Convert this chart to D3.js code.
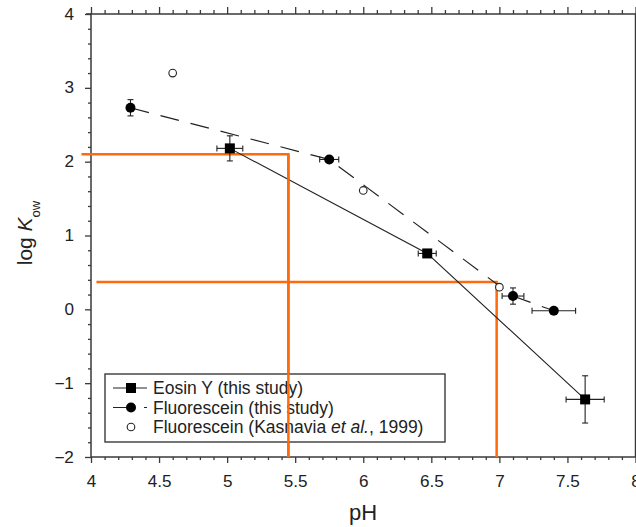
<!DOCTYPE html>
<html>
<head>
<meta charset="utf-8">
<script src="https://cdn.jsdelivr.net/npm/d3@7"></script>
<style>
  body { margin: 0; background: #fff; }
  text { font-family: "Liberation Sans", Arial, Helvetica, sans-serif; fill: #222; }
</style>
</head>
<body>
<script>
"use strict";

// Eosin Y (this study): pH, log Kow and error bars
var eosinPH = [5.02, 6.47, 7.63];
var eosinK = [2.18, 0.757, -1.22];
var eosinPHerr = [0.095, 0.066, 0.14];
var eosinKerr = [0.17, 0.04, 0.32];

// Fluorescein (this study)
var fluorPH = [4.29, 5.75, 7.10, 7.40];
var fluorK = [2.73, 2.03, 0.18, -0.02];
var fluorPHerr = [0.0, 0.07, 0.08, 0.16];
var fluorKerr = [0.11, 0.02, 0.11, 0.02];

// Fluorescein (Kasnavia et al., 1999)
var kasPH = [4.60, 6.00, 7.00];
var kasK = [3.20, 1.61, 0.30];

// orange reading lines: [x1, y1, x2, y2] corners
var orangeA = [[3.93, 2.10], [5.45, 2.10], [5.45, -2]];
var orangeB = [[4.04, 0.37], [6.98, 0.37], [6.98, -2]];

var xMajor = [4, 4.5, 5, 5.5, 6, 6.5, 7, 7.5, 8];
var xLabels = ["4", "4.5", "5", "5.5", "6", "6.5", "7", "7.5", "8"];
var yMajor = [-2, -1, 0, 1, 2, 3, 4];

var legendLabels = ["Eosin Y (this study)", "Fluorescein (this study)", "Fluorescein (Kasnavia "];

window.onload = function() {
  var width = 636, height = 527;
  var svg = d3.select("body").append("svg")
      .attr("width", width).attr("height", height);

  var x = d3.scaleLinear().domain([4, 8]).range([91, 635.5]);
  var y = d3.scaleLinear().domain([-2, 4]).range([457, 14]);

  var xMinor = d3.range(40, 81).map(function(d) { return d / 10; })
      .filter(function(d) { return Math.abs(d * 2 - Math.round(d * 2)) > 1e-6; });
  var yMinor = d3.range(-10, 21).map(function(d) { return d / 5; })
      .filter(function(d) { return Math.abs(d - Math.round(d)) > 1e-6; });

  var axisColor = "#3a3a3a";

  function styleAxis(g) {
    g.select(".domain").remove();
    g.selectAll("line").attr("stroke", axisColor).attr("stroke-width", 1.3);
    g.selectAll("text").style("font-size", "16px").attr("fill", "#222");
  }

  // bottom
  svg.append("g").attr("transform", "translate(0," + y(-2) + ")")
    .call(d3.axisBottom(x).tickValues(xMinor).tickSize(3).tickFormat(""))
    .call(styleAxis);
  svg.append("g").attr("transform", "translate(0," + y(-2) + ")")
    .call(d3.axisBottom(x).tickValues(xMajor).tickSize(6).tickPadding(13)
      .tickFormat(function(d, i) { return xLabels[i]; }))
    .call(styleAxis)
    .selectAll("text").attr("transform", "scale(1.07,1)");
  // top
  svg.append("g").attr("transform", "translate(0," + y(4) + ")")
    .call(d3.axisTop(x).tickValues(xMinor).tickSize(4).tickFormat(""))
    .call(styleAxis);
  svg.append("g").attr("transform", "translate(0," + y(4) + ")")
    .call(d3.axisTop(x).tickValues(xMajor).tickSize(7).tickFormat(""))
    .call(styleAxis);
  // left
  svg.append("g").attr("transform", "translate(" + x(4) + ",0)")
    .call(d3.axisLeft(y).tickValues(yMinor).tickSize(3).tickFormat(""))
    .call(styleAxis);
  svg.append("g").attr("transform", "translate(" + x(4) + ",0)")
    .call(d3.axisLeft(y).tickValues(yMajor).tickSize(6).tickPadding(10)
      .tickFormat(d3.format("d")))
    .call(styleAxis)
    .selectAll("text").attr("transform", "scale(1.07,1)");

  // frame
  svg.append("rect")
    .attr("x", x(4)).attr("y", y(4))
    .attr("width", x(8) - x(4)).attr("height", y(-2) - y(4))
    .attr("fill", "none").attr("stroke", axisColor).attr("stroke-width", 1.5);
  svg.append("line")
    .attr("x1", x(4) - 5).attr("x2", x(4)).attr("y1", y(4)).attr("y2", y(4))
    .attr("stroke", axisColor).attr("stroke-width", 1.5);

  // axis titles
  svg.append("text")
    .attr("x", 363).attr("y", 520)
    .attr("text-anchor", "middle")
    .style("font-size", "22px")
    .text("pH");

  var yl = svg.append("text")
    .attr("transform", "translate(32,233) rotate(-90)")
    .attr("text-anchor", "middle")
    .style("font-size", "21px");
  yl.append("tspan").text("log ");
  yl.append("tspan").style("font-style", "italic").text("K");
  yl.append("tspan").attr("dy", 8).style("font-size", "13px").text("ow");

  // orange lines
  var line = d3.line().x(function(d) { return x(d[0]); }).y(function(d) { return y(d[1]); });
  [orangeA, orangeB].forEach(function(pts) {
    svg.append("path").attr("d", line(pts))
      .attr("fill", "none").attr("stroke", "#ff6a0a").attr("stroke-width", 2.5);
  });

  // series lines
  var eosin = eosinPH.map(function(d, i) { return [d, eosinK[i]]; });
  var fluor = fluorPH.map(function(d, i) { return [d, fluorK[i]]; });

  svg.append("path").attr("d", line(eosin))
    .attr("fill", "none").attr("stroke", "#222").attr("stroke-width", 1.1);
  svg.append("path").attr("d", line(fluor))
    .attr("fill", "none").attr("stroke", "#222").attr("stroke-width", 1.2)
    .attr("stroke-dasharray", "19,12");

  // error bars
  function errorBars(px, py, ex, ey) {
    var g = svg.append("g").attr("stroke", "#222").attr("stroke-width", 1.1);
    px.forEach(function(d, i) {
      var cx = x(d), cy = y(py[i]);
      if (ex[i] > 0) {
        var x0 = x(d - ex[i]), x1 = x(d + ex[i]);
        g.append("line").attr("x1", x0).attr("x2", x1).attr("y1", cy).attr("y2", cy);
        g.append("line").attr("x1", x0).attr("x2", x0).attr("y1", cy - 3).attr("y2", cy + 3);
        g.append("line").attr("x1", x1).attr("x2", x1).attr("y1", cy - 3).attr("y2", cy + 3);
      }
      if (ey[i] > 0) {
        var y0 = y(py[i] - ey[i]), y1 = y(py[i] + ey[i]);
        g.append("line").attr("x1", cx).attr("x2", cx).attr("y1", y0).attr("y2", y1);
        g.append("line").attr("x1", cx - 3).attr("x2", cx + 3).attr("y1", y0).attr("y2", y0);
        g.append("line").attr("x1", cx - 3).attr("x2", cx + 3).attr("y1", y1).attr("y2", y1);
      }
    });
  }
  errorBars(eosinPH, eosinK, eosinPHerr, eosinKerr);
  errorBars(fluorPH, fluorK, fluorPHerr, fluorKerr);

  // markers
  svg.selectAll(".sq").data(eosin).enter().append("rect")
    .attr("x", function(d) { return x(d[0]) - 5; })
    .attr("y", function(d) { return y(d[1]) - 5; })
    .attr("width", 10).attr("height", 10).attr("fill", "#000");
  svg.selectAll(".ci").data(fluor).enter().append("circle")
    .attr("cx", function(d) { return x(d[0]); })
    .attr("cy", function(d) { return y(d[1]); })
    .attr("r", 5).attr("fill", "#000");
  svg.selectAll(".oc").data(kasPH).enter().append("circle")
    .attr("cx", function(d) { return x(d); })
    .attr("cy", function(d, i) { return y(kasK[i]); })
    .attr("r", 3.8).attr("fill", "#fff").attr("stroke", "#222").attr("stroke-width", 1.1);

  // legend
  var lg = svg.append("g").attr("transform", "translate(105,374)");
  lg.append("rect").attr("width", 340).attr("height", 68)
    .attr("fill", "#fff").attr("stroke", axisColor).attr("stroke-width", 1.4);
  var rows = [14, 33.5, 53];
  lg.append("line").attr("x1", 8).attr("x2", 42).attr("y1", rows[0]).attr("y2", rows[0])
    .attr("stroke", "#222").attr("stroke-width", 1.2);
  lg.append("rect").attr("x", 21).attr("y", rows[0] - 5).attr("width", 10).attr("height", 10).attr("fill", "#000");
  lg.append("line").attr("x1", 8).attr("x2", 42).attr("y1", rows[1]).attr("y2", rows[1])
    .attr("stroke", "#222").attr("stroke-width", 1.2).attr("stroke-dasharray", "19,12");
  lg.append("circle").attr("cx", 26).attr("cy", rows[1]).attr("r", 5).attr("fill", "#000");
  lg.append("circle").attr("cx", 26).attr("cy", rows[2]).attr("r", 3.8)
    .attr("fill", "#fff").attr("stroke", "#222").attr("stroke-width", 1.1);

  legendLabels.forEach(function(t, i) {
    var tx = lg.append("text").attr("x", 48).attr("y", rows[i]).attr("dy", "0.36em")
      .style("font-size", "17.5px").text(t);
    if (i === 2) {
      tx.append("tspan").style("font-style", "italic").text("et al.");
      tx.append("tspan").text(", 1999)");
    }
  });

  // redraw the orange verticals over the legend, as in the original
  svg.append("path").attr("d", line([orangeA[1], orangeA[2]]))
    .attr("fill", "none").attr("stroke", "#ff6a0a").attr("stroke-width", 2.5);
};
</script>
</body>
</html>
